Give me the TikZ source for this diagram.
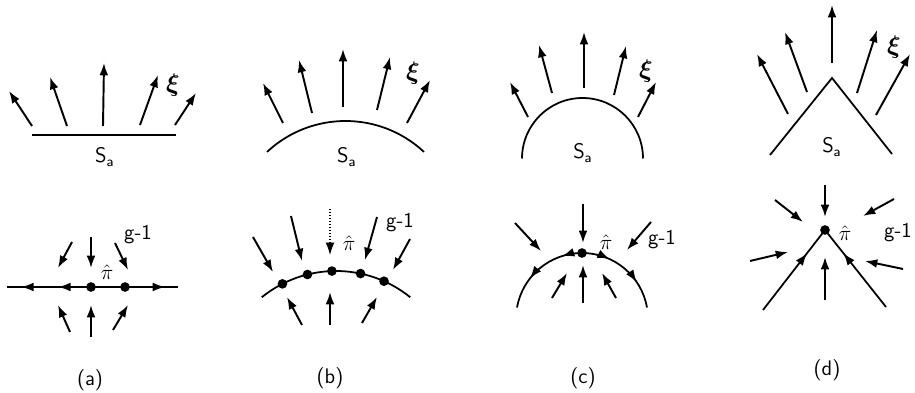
\documentclass[tikz,border=0pt]{standalone}
\usepackage{amsmath,amssymb}
\usepackage{tikz}
\usetikzlibrary{arrows.meta, calc, decorations.markings}
\tikzset{
  vtip/.tip={Latex[length=7pt,width=5pt]},
  vec/.style={line width=1.1pt, -vtip},
  surf/.style={line width=1pt},
  dot/.style={circle, fill=black, inner sep=0pt, minimum size=5.5pt},
  lbl/.style={font=\sffamily\large},
  xilbl/.style={font=\Large\boldmath},
}

\begin{document}
\begin{tikzpicture}[x=0.02cm, y=0.02cm]
  \useasboundingbox (0,0) rectangle (915,392);

  % (a) flat surface
  \draw[surf] (32,257) -- (176,257);
  \foreach \xa/\ya/\xb/\yb in {32/266/9/301, 67/266/50/315, 103/266/104/329, 140/267/158/317, 175/267/196/299}
    \draw[vec] (\xa,\ya) -- (\xb,\yb);
  \node[xilbl] (axi) at (173,307) {$\xi$};
  \node[lbl] (aS) at (105,235) {S$_{\mathsf{a}}$};

  \node[dot] (api) at (91,105) {};
  \node[dot] (ad) at (125,105) {};
  \draw[surf, postaction={decorate}, decoration={markings,
      mark=at position 0.39 with {\arrow{vtip}}, mark=at position 0.83 with {\arrow{vtip}}}]
    (api.center) -- (7,105);
  \draw[surf, postaction={decorate}, decoration={markings,
      mark=at position 0.85 with {\arrow{vtip}}}]
    (api.center) -- (178,105);
  \foreach \xa/\ya/\xb/\yb in {72/150/58/124, 91/155/91/124, 115/149/128/122, 70/60/58/87, 91/55/91/87, 113/62/128/87}
    \draw[vec] (\xa,\ya) -- (\xb,\yb);
  \node[lbl] (ag) at (138,157) {g-1};
  \node[font=\large] (ahat) at (107,120) {$\hat{\pi}$};
  \node[lbl] (acap) at (90,12) {(a)};

  % (b) gently curved surface
  \draw[surf] (345.5,156) ++(133:115) arc[start angle=133, end angle=47, radius=115];
  \foreach \xa/\ya/\xb/\yb in {283/269/263/309, 312/279/299/332, 343/285/343/343, 377/282/390/335, 407/269/430/312}
    \draw[vec] (\xa,\ya) -- (\xb,\yb);
  \node[xilbl] (bxi) at (413,319) {$\xi$};
  \node[lbl] (bS) at (347,235) {S$_{\mathsf{a}}$};

  \draw[surf] (336,3) ++(129:118) arc[start angle=129, end angle=51, radius=118];
  \foreach \a in {117,104,92,78,66}
    \node[dot] (bd\a) at ($(336,3)+(\a:118)$) {};
  \foreach \xa/\ya/\xb/\yb in {253/155/273/120, 291/176/302/131, 377/175/365/132, 410/153/393/122, 302/67/287/95, 330/67/330/100, 362/69/377/95}
    \draw[vec] (\xa,\ya) -- (\xb,\yb);
  \draw[vec, line width=0.7pt, densely dotted] (330,183) -- (330,137);
  \node[font=\large] (bhat) at (349,149) {$\hat{\pi}$};
  \node[lbl] (bg) at (400,169) {g-1};
  \node[lbl] (bcap) at (330,14) {(b)};

  % (c) half circle
  \draw[surf] (582.5,233.5) ++(180:60.5) arc[start angle=180, end angle=0, radius=60.5];
  \foreach \xa/\ya/\xb/\yb in {528/275/510/310, 552/299/539/347, 584/304/584/360, 614/297/626/346, 638/275/656/310}
    \draw[vec] (\xa,\ya) -- (\xb,\yb);
  \node[xilbl] (cxi) at (646,321) {$\xi$};
  \node[lbl] (cS) at (583,239) {S$_{\mathsf{a}}$};

  \coordinate (cc) at (582,73);
  \node[dot] (cpi) at ($(cc)+(90:66)$) {};
  \draw[surf, postaction={decorate}, decoration={markings,
      mark=at position 0.22 with {\arrow{vtip}}, mark=at position 0.65 with {\arrow{vtip}}}]
    (cpi.center) arc[start angle=90, end angle=170, radius=66];
  \draw[surf, postaction={decorate}, decoration={markings,
      mark=at position 0.31 with {\arrow{vtip}}, mark=at position 0.70 with {\arrow{vtip}}}]
    (cpi.center) arc[start angle=90, end angle=10, radius=66];
  \foreach \xa/\ya/\xb/\yb in {515/169/541/141, 583/188/583/149, 651/170/627/142, 552/94/567/119, 583/89/583/127, 616/94/602/119}
    \draw[vec] (\xa,\ya) -- (\xb,\yb);
  \node[font=\large] (chat) at (606,150) {$\hat{\pi}$};
  \node[lbl] (cg) at (662,152) {g-1};
  \node[lbl] (ccap) at (583,14) {(c)};

  % (d) wedge
  \draw[surf] (770,237) -- (832,314) -- (892,238);
  \foreach \xa/\ya/\xb/\yb in {788/278/757/338, 807/300/785/360, 832/329/832/387, 857/299/877/362, 876/277/910/338}
    \draw[vec] (\xa,\ya) -- (\xb,\yb);
  \node[xilbl] (dxi) at (894,345) {$\xi$};
  \node[lbl] (dS) at (832,245) {S$_{\mathsf{a}}$};

  \node[dot] (dpi) at (825,162) {};
  \draw[surf, postaction={decorate}, decoration={markings,
      mark=at position 0.71 with {\arrow{vtip}}}]
    (763,82) -- (dpi.center);
  \draw[surf, postaction={decorate}, decoration={markings,
      mark=at position 0.70 with {\arrow{vtip}}}]
    (886,85) -- (dpi.center);
  \foreach \xa/\ya/\xb/\yb in {775/192/803/170, 825/207/825/175, 894/193/863/176, 750/131/788/140, 825/92/825/135, 903/123/865/131}
    \draw[vec] (\xa,\ya) -- (\xb,\yb);
  \node[font=\large] (dhat) at (845,159) {$\hat{\pi}$};
  \node[lbl] (dg) at (898,159) {g-1};
  \node[lbl] (dcap) at (827,22) {(d)};
\end{tikzpicture}
\end{document}
